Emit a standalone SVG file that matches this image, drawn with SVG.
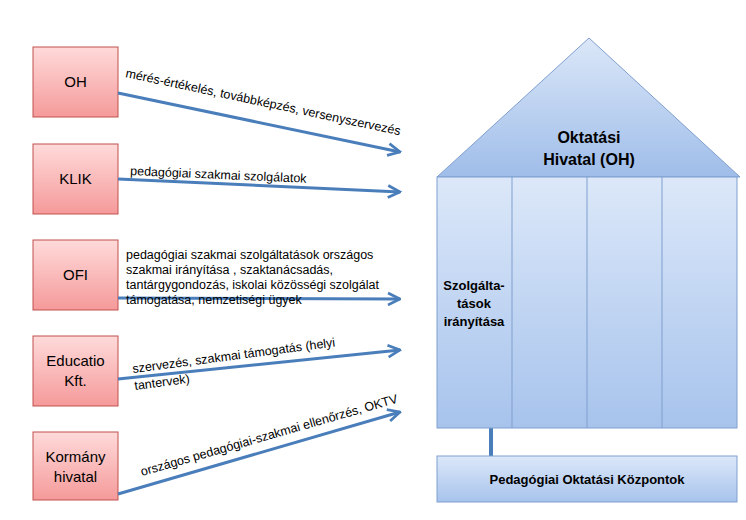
<svg xmlns="http://www.w3.org/2000/svg" width="746" height="520" viewBox="0 0 746 520">
<defs>
<linearGradient id="pg" x1="0" y1="0" x2="0" y2="1"><stop offset="0" stop-color="#ffdada"/><stop offset="1" stop-color="#f59a9a"/></linearGradient>
<linearGradient id="bg" x1="0" y1="0" x2="0" y2="1"><stop offset="0" stop-color="#dce8f9"/><stop offset="1" stop-color="#a7c3ec"/></linearGradient>
<linearGradient id="rg" x1="0" y1="0" x2="0" y2="1"><stop offset="0" stop-color="#dbe7f8"/><stop offset="1" stop-color="#9fbde9"/></linearGradient>
<marker id="ah" viewBox="0 0 10 10" refX="9" refY="5" markerWidth="5" markerHeight="5" orient="auto"><path d="M1 1 L9 5 L1 9" fill="none" stroke="#4a7ebb" stroke-width="1.8"/></marker>
</defs>
<style>
.src{fill:url(#pg);stroke:#c0504d;stroke-width:1}
.st{font-family:"Liberation Sans",Arial,sans-serif;font-size:15px;fill:#000;text-anchor:middle}
.lb{font-family:"Liberation Sans",Arial,sans-serif;font-size:12.5px;fill:#000}
.ar{stroke:#4a7ebb;stroke-width:3;fill:none;marker-end:url(#ah)}
.bl{stroke:#7f9fcf;stroke-width:1}
.bt{font-family:"Liberation Sans",Arial,sans-serif;font-weight:bold;fill:#000;text-anchor:middle}
</style>
<rect width="746" height="520" fill="#fff"/>
<g id="n-oh"><rect class="src" x="33" y="47" width="85" height="70"/><text class="st" x="75.5" y="87">OH</text></g>
<g id="n-klik"><rect class="src" x="33" y="144" width="85" height="70"/><text class="st" x="75.5" y="184">KLIK</text></g>
<g id="n-ofi"><rect class="src" x="33" y="240" width="85" height="70"/><text class="st" x="75.5" y="280">OFI</text></g>
<g id="n-edu"><rect class="src" x="33" y="336" width="85" height="70"/><text class="st" x="75.5" y="366">Educatio</text><text class="st" x="75.5" y="386">Kft.</text></g>
<g id="n-korm"><rect class="src" x="33" y="432" width="85" height="68"/><text class="st" x="75.5" y="462">Kormány</text><text class="st" x="75.5" y="482">hivatal</text></g>
<g id="connectors">
<path class="ar" d="M118 93 L400 152"/>
<path class="ar" d="M118 179 L400 192"/>
<path class="ar" d="M118 298 L400 299"/>
<path class="ar" d="M118 379 L400 350"/>
<path class="ar" d="M118 494 L400 412"/>
<path d="M491 428 V456" stroke="#4a7ebb" stroke-width="4"/>
</g>
<g id="labels">
<text class="lb" transform="translate(125,77) rotate(12)">mérés-értékelés, továbbképzés, versenyszervezés</text>
<text class="lb" transform="translate(130,175) rotate(2.5)">pedagógiai szakmai szolgálatok</text>
<text class="lb" x="126" y="259">pedagógiai szakmai szolgáltatások országos</text>
<text class="lb" x="126" y="274">szakmai irányítása , szaktanácsadás,</text>
<text class="lb" x="126" y="289">tantárgygondozás, iskolai közösségi szolgálat</text>
<text class="lb" x="126" y="304">támogatása, nemzetiségi ügyek</text>
<text class="lb" transform="translate(133,373) rotate(-7.5)">szervezés, szakmai támogatás (helyi</text>
<text class="lb" transform="translate(135,390) rotate(-7.5)">tantervek)</text>
<text class="lb" transform="translate(142,476) rotate(-16)">országos pedagógiai-szakmai ellenőrzés,  OKTV</text>
</g>
<g id="n-building">
<path d="M437 177 L589 38 L740 177 Z" fill="url(#rg)" stroke="#7f9fcf"/>
<text class="bt" x="589" y="143" font-size="16">Oktatási</text>
<text class="bt" x="589" y="165" font-size="16">Hivatal (OH)</text>
<rect x="437" y="177" width="300" height="251" fill="url(#bg)" stroke="#7f9fcf"/>
<path class="bl" d="M512 177 V428 M587 177 V428 M662 177 V428"/>
<text class="bt" x="474" y="290" font-size="13">Szolgálta-</text>
<text class="bt" x="474" y="308" font-size="13">tások</text>
<text class="bt" x="474" y="326" font-size="13">irányítása</text>
</g>
<g id="n-pok"><rect x="437" y="456" width="300" height="46" fill="url(#bg)" stroke="#7f9fcf"/><text class="bt" x="587" y="484" font-size="13">Pedagógiai Oktatási Központok</text></g>
</svg>
